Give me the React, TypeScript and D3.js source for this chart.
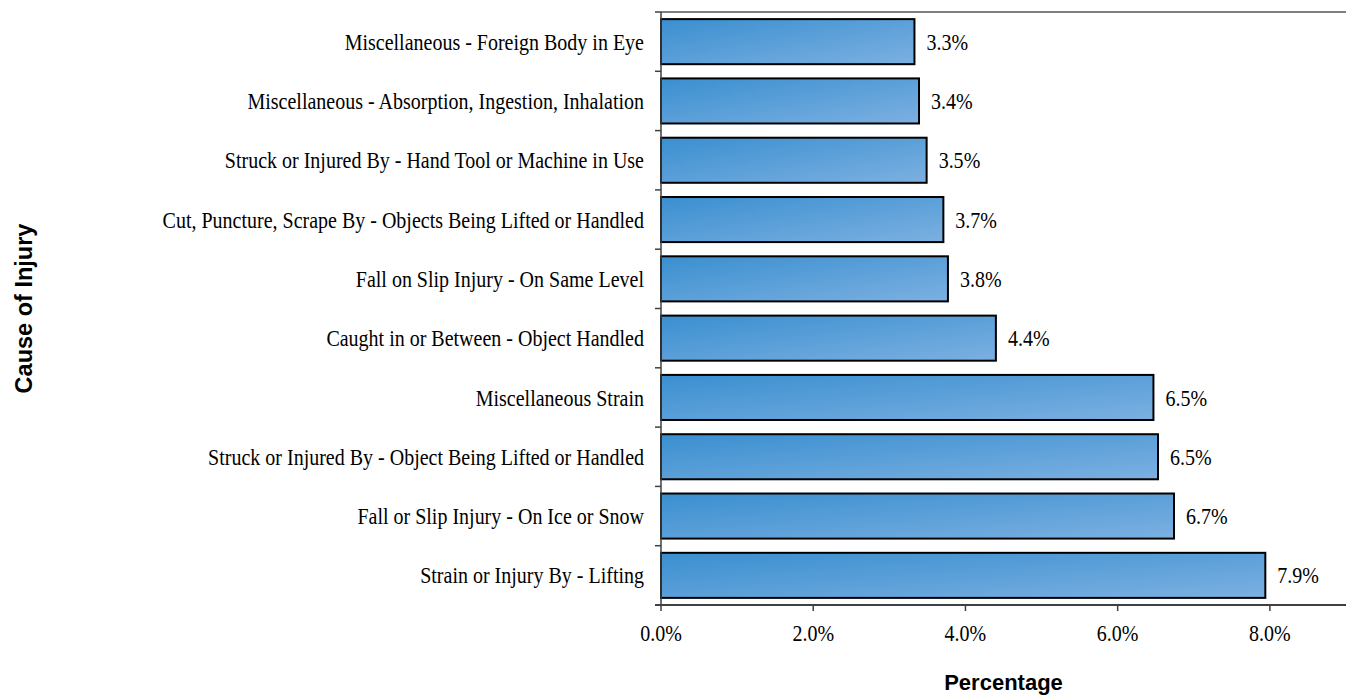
import React from 'react';
import * as d3 from 'd3';

// top to bottom, as in the chart
const causes = [
  'Miscellaneous - Foreign Body in Eye',
  'Miscellaneous - Absorption, Ingestion, Inhalation',
  'Struck or Injured By - Hand Tool or Machine in Use',
  'Cut, Puncture, Scrape By - Objects Being Lifted or Handled',
  'Fall on Slip Injury - On Same Level',
  'Caught in or Between - Object Handled',
  'Miscellaneous Strain',
  'Struck or Injured By - Object Being Lifted or Handled',
  'Fall or Slip Injury - On Ice or Snow',
  'Strain or Injury By - Lifting',
];
const percents = [3.33, 3.39, 3.49, 3.71, 3.77, 4.4, 6.47, 6.53, 6.74, 7.94];
const xTicks = [0, 2, 4, 6, 8];

const W = 1346;
const H = 696;
const margin = { top: 12, right: 0, bottom: 91, left: 661 };

const serif = '"Liberation Serif", "Times New Roman", serif';
const sans = '"Liberation Sans", Arial, sans-serif';
// the original text is a bit taller than it is wide
const stretch = 1.15;

function SerifText({ x, y, anchor = 'start', children }: { x: number; y: number; anchor?: string; children: React.ReactNode }) {
  return (
    <text
      transform={`translate(${x},${y}) scale(1,${stretch})`}
      dy="0.35em"
      textAnchor={anchor}
      fontFamily={serif}
      fontSize={20}
      fill="#000"
    >
      {children}
    </text>
  );
}

export default function App() {
  const x = d3.scaleLinear().domain([0, 9]).range([margin.left, W - margin.right]);
  const y = d3
    .scaleBand<string>()
    .domain(causes)
    .range([margin.top, H - margin.bottom])
    .paddingInner(0.24)
    .paddingOuter(0.12);

  const step = y.step();
  const bottom = H - margin.bottom;
  // category ticks sit between bands
  const catTicks = d3.range(causes.length + 1).map(i => margin.top + i * step);

  return (
    <svg
      width={W}
      height={H}
      style={{ position: 'absolute', left: 0, top: 0, background: '#fff' }}
    >
      <defs>
        <linearGradient id="barFill" x1="0" y1="0" x2="1" y2="1">
          <stop offset="0%" stopColor="#3a8fd0" />
          <stop offset="100%" stopColor="#7cb0e1" />
        </linearGradient>
      </defs>

      {/* top border */}
      <line x1={x(0)} x2={W} y1={margin.top} y2={margin.top} stroke="#000" strokeWidth={1} />

      {/* bars */}
      {causes.map((c, i) => (
        <g key={c}>
          <rect
            x={x(0)}
            y={y(c)!}
            width={x(percents[i]) - x(0)}
            height={y.bandwidth()}
            fill="url(#barFill)"
            stroke="#000"
            strokeWidth={2}
          />
          <SerifText x={x(percents[i]) + 12} y={y(c)! + y.bandwidth() / 2}>
            {percents[i].toFixed(1)}%
          </SerifText>
          <SerifText x={x(0) - 17} y={y(c)! + y.bandwidth() / 2} anchor="end">
            {c}
          </SerifText>
        </g>
      ))}

      {/* y axis */}
      <line x1={x(0)} x2={x(0)} y1={margin.top} y2={bottom} stroke="#404040" strokeWidth={1.5} />
      {catTicks.map(t => (
        <line key={t} x1={x(0) - 6} x2={x(0)} y1={t} y2={t} stroke="#404040" strokeWidth={1.5} />
      ))}

      {/* x axis */}
      <line x1={x(0) - 6} x2={W} y1={bottom} y2={bottom} stroke="#404040" strokeWidth={2} />
      {xTicks.map(t => (
        <g key={t}>
          <line x1={x(t)} x2={x(t)} y1={bottom} y2={bottom + 6} stroke="#404040" strokeWidth={1.5} />
          <SerifText x={x(t)} y={bottom + 28} anchor="middle">
            {t.toFixed(1)}%
          </SerifText>
        </g>
      ))}

      {/* axis titles */}
      <text
        x={(x(0) + W) / 2}
        y={690}
        textAnchor="middle"
        fontFamily={sans}
        fontWeight="bold"
        fontSize={22}
        fill="#000"
      >
        Percentage
      </text>
      <text
        transform={`translate(32,${(margin.top + bottom) / 2}) rotate(-90)`}
        textAnchor="middle"
        fontFamily={sans}
        fontWeight="bold"
        fontSize={23.5}
        fill="#000"
      >
        Cause of Injury
      </text>
    </svg>
  );
}
